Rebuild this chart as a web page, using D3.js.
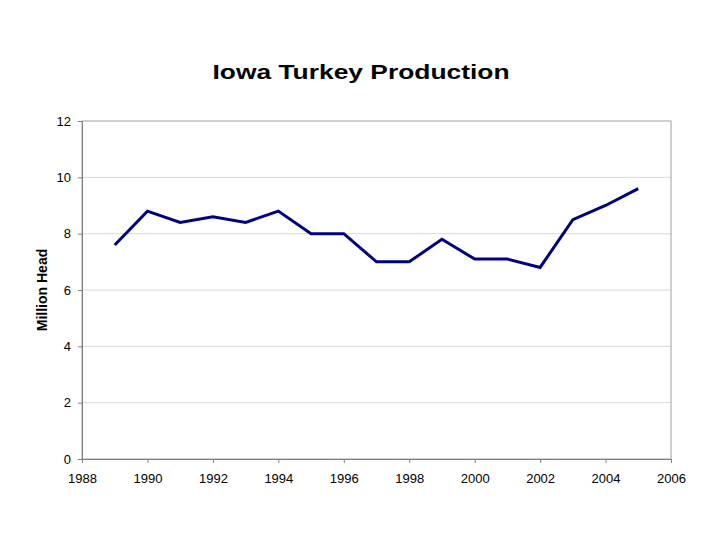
<!DOCTYPE html>
<html><head><meta charset="utf-8">
<script src="https://cdn.jsdelivr.net/npm/d3@7"></script>
<style>body{margin:0;background:#fff;}svg{display:block;font-family:"Liberation Sans",Arial,sans-serif;}</style>
</head><body>
<svg id="c" width="720" height="540"></svg>
<script>
const years = [1989,1990,1991,1992,1993,1994,1995,1996,1997,1998,1999,2000,2001,2002,2003,2004,2005];
const production = [7.6,8.8,8.4,8.6,8.4,8.8,8.0,8.0,7.0,7.0,7.8,7.1,7.1,6.8,8.5,9.0,9.6];
const xTicks = [1988,1990,1992,1994,1996,1998,2000,2002,2004,2006];
const yTicks = [0,2,4,6,8,10,12];
const title = "Iowa Turkey Production";
const yLabel = "Million Head";

const svg = d3.select("#c");
const L=82,R=671,T=121,B=459;
const x = d3.scaleLinear().domain([1988,2006]).range([L,R]);
const y = d3.scaleLinear().domain([0,12]).range([B,T]);

svg.append("g").selectAll("line").data(yTicks.filter(d=>d>0&&d<12)).join("line")
  .attr("x1",L).attr("x2",R).attr("y1",d=>y(d)).attr("y2",d=>y(d))
  .attr("stroke","#d9d9d9").attr("stroke-width",1);

svg.append("rect").attr("x",L).attr("y",T).attr("width",R-L).attr("height",B-T)
  .attr("fill","none").attr("stroke","#a0a0a0").attr("stroke-width",1);

const xa = svg.append("g").attr("transform",`translate(0,${B})`)
  .call(d3.axisBottom(x).tickValues(xTicks).tickFormat(d3.format("d")).tickSize(4).tickPadding(11));
const ya = svg.append("g").attr("transform",`translate(${L},0)`)
  .call(d3.axisLeft(y).tickValues(yTicks).tickSize(4).tickPadding(7));
[xa,ya].forEach(a=>{
  a.select(".domain").attr("stroke","#808080");
  a.selectAll(".tick line").attr("stroke","#808080");
  a.selectAll("text").attr("font-size",13).attr("fill","#000").attr("font-family","Liberation Sans, Arial, sans-serif");
});

svg.append("path").datum(years.map((d,i)=>[d,production[i]]))
  .attr("d",d3.line().x(d=>x(d[0])).y(d=>y(d[1])))
  .attr("fill","none").attr("stroke","#000080").attr("stroke-width",3).attr("stroke-linejoin","miter");

svg.append("text").attr("x",361).attr("y",79).attr("text-anchor","middle")
  .attr("font-size",21).attr("font-weight","bold")
  .attr("textLength",297).attr("lengthAdjust","spacingAndGlyphs").text(title);
svg.append("text").attr("transform","translate(47,290) rotate(-90)").attr("text-anchor","middle")
  .attr("font-size",14).attr("font-weight","bold").text(yLabel);
</script>
</body></html>
